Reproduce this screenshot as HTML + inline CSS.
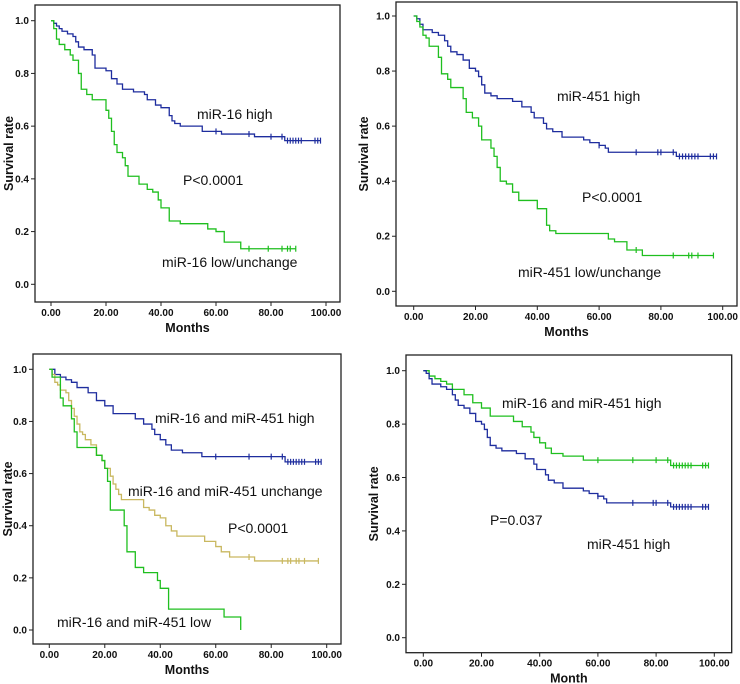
<!DOCTYPE html>
<html><head><meta charset="utf-8">
<style>
html,body{margin:0;padding:0;background:#fff;}
svg{display:block;font-family:"Liberation Sans",Arial,sans-serif;}
.tick{font-size:10px;font-weight:bold;fill:#111;}
.ttl{font-size:12.5px;font-weight:bold;fill:#111;}
.lbl{font-size:14px;fill:#111;}
</style></head>
<body>
<svg id="fig" width="740" height="684" viewBox="0 0 740 684"></svg>
<script>
// ---- data: [month, survival] step points ----
const p1High = [[0,1],[1,.99],[2,.98],[3,.97],[4,.96],[6,.95],[8,.94],[9,.92],[10,.90],[12,.89],[15,.87],[16,.82],[20,.81],[22,.78],[24,.76],[26,.74],[30,.73],[34,.72],[35,.70],[38,.68],[40,.67],[43,.64],[44,.62],[45,.61],[47,.60],[55,.58],[62,.57],[74,.56],[85,.545],[98,.545]];
const p1HighCens = [60,72,80,84,86,87,88,89,90,91,96,97,98];
const p1Low = [[0,1],[1,.97],[2,.93],[3,.91],[5,.89],[7,.87],[8,.85],[10,.80],[11,.74],[13,.72],[15,.70],[20,.66],[21,.63],[22,.58],[23,.53],[24,.50],[26,.48],[27,.45],[28,.41],[32,.38],[35,.36],[37,.35],[39,.32],[40,.29],[43,.24],[47,.23],[57,.21],[60,.20],[63,.16],[69,.135],[89,.135]];
const p1LowCens = [72,79,84,86,87,89];
const p451High = [[0,1],[1,.99],[2,.97],[3,.95],[6,.94],[8,.93],[10,.91],[11,.89],[12,.87],[14,.86],[16,.84],[18,.81],[20,.80],[21,.78],[22,.75],[23,.72],[25,.71],[27,.70],[32,.69],[35,.67],[38,.65],[39,.63],[42,.61],[43,.59],[45,.58],[48,.56],[55,.55],[57,.54],[60,.53],[62,.52],[63,.505],[85,.49],[98,.49]];
const p451HighCens = [60,72,79,80,84,86,87,88,89,90,91,92,96,97,98];
const p451Low = [[0,1],[1,.98],[2,.96],[3,.93],[4,.92],[5,.89],[8,.85],[9,.79],[11,.77],[12,.74],[16,.70],[17,.65],[19,.63],[21,.60],[22,.55],[25,.52],[26,.49],[27,.45],[28,.40],[30,.39],[32,.36],[34,.33],[40,.30],[43,.24],[44,.22],[46,.21],[63,.19],[65,.18],[69,.15],[74,.13],[97,.13]];
const p451LowCens = [72,84,89,90,92,97];
const bothHigh = [[0,1],[2,.98],[4,.97],[6,.96],[8,.95],[10,.93],[14,.91],[17,.88],[20,.86],[23,.83],[31,.81],[34,.79],[37,.77],[38,.75],[40,.73],[42,.71],[44,.69],[48,.68],[55,.665],[85,.645],[98,.645]];
const bothHighCens = [60,72,80,84,86,87,88,89,90,91,92,96,97,98];
const bothUnch = [[0,1],[1,.98],[2,.95],[3,.94],[4,.92],[6,.91],[7,.88],[8,.85],[9,.82],[10,.79],[11,.76],[12,.75],[13,.73],[15,.71],[17,.67],[19,.65],[20,.62],[22,.59],[23,.56],[24,.54],[25,.52],[26,.50],[34,.47],[36,.46],[38,.44],[40,.43],[42,.40],[44,.38],[46,.36],[56,.34],[60,.32],[62,.30],[65,.28],[74,.265],[97,.265]];
const bothUnchCens = [72,84,86,87,89,90,92,97];
const bothLow = [[0,1],[1,.97],[4,.89],[5,.86],[8,.81],[9,.76],[10,.70],[17,.67],[19,.65],[20,.62],[21,.57],[22,.46],[27,.40],[28,.30],[31,.24],[34,.22],[39,.19],[40,.16],[43,.08],[63,.05],[69,0]];
const bothLowCens = [];
const xTicks = [0,20,40,60,80,100];
const xTickLabels = ["0.00","20.00","40.00","60.00","80.00","100.00"];
const yTicks = [0,0.2,0.4,0.6,0.8,1.0];
const yTickLabels = ["0.0","0.2","0.4","0.6","0.8","1.0"];

const NS="http://www.w3.org/2000/svg";
const svg=document.getElementById('fig');
function mk(tag,attrs,parent){const e=document.createElementNS(NS,tag);for(const k in attrs)e.setAttribute(k,attrs[k]);(parent||svg).appendChild(e);return e;}
const BLUE="#1e2d9e",GREEN="#1fbf1f",KHAKI="#c9b860";

function panel(id,P,series,labels,xTitle){
  const g=mk('g',{});
  
  
  const sx=v=>P.x0+(P.x100-P.x0)*v/100;
  const sy=v=>P.y0+(P.y1-P.y0)*v;
  const fr=mk('rect',{x:P.l,y:P.t,width:P.r-P.l,height:P.b-P.t,fill:'none',stroke:'#222','stroke-width':1.3},g);
  
  
  xTicks.forEach((v,i)=>{
    mk('line',{x1:sx(v),x2:sx(v),y1:P.b,y2:P.b+4,stroke:'#222'},g);
    const t=mk('text',{x:sx(v),y:P.b+14,'text-anchor':'middle',class:'tick'},g);
    t.textContent=xTickLabels[i];
    
    
  });
  yTicks.forEach((v,i)=>{
    mk('line',{x1:P.l-4,x2:P.l,y1:sy(v),y2:sy(v),stroke:'#222'},g);
    const t=mk('text',{x:P.l-6,y:sy(v)+3.5,'text-anchor':'end',class:'tick'},g);
    t.textContent=yTickLabels[i];
    
    
  });
  const xt=mk('text',{x:(P.l+P.r)/2,y:P.b+30,'text-anchor':'middle',class:'ttl'},g);
  xt.textContent=xTitle;
  
  
  const yt=mk('text',{x:0,y:0,'text-anchor':'middle',class:'ttl',transform:`translate(${P.yl},${(P.t+P.b)/2}) rotate(-90)`},g);
  yt.textContent='Survival rate';
  
  
  series.forEach(s=>{
    let d='';
    s.pts.forEach((p,i)=>{
      if(i===0)d+=`M${sx(p[0])},${sy(p[1])}`;
      else d+=`H${sx(p[0])}V${sy(p[1])}`;
    });
    const path=mk('path',{d:d,fill:'none',stroke:s.color,'stroke-width':1.3},g);
    
    
    s.cens.forEach(c=>{
      let sv=s.pts[0][1];
      s.pts.forEach(p=>{if(p[0]<=c)sv=p[1];});
      const m=mk('path',{d:`M${sx(c)},${sy(sv)-3}V${sy(sv)+3}`,stroke:s.color,'stroke-width':1.2},g);
      
      
    });
  });
  labels.forEach(L=>{
    const t=mk('text',{x:L[1],y:L[2],class:'lbl'},g);
    t.textContent=L[0];
    
    
  });
}

panel('panel-mir16',{l:35,t:5,r:340,b:302,x0:51,x100:326,y0:284.3,y1:20.7,yl:13},
  [{pts:p1High,cens:p1HighCens,color:BLUE,name:'mir16-high-curve'},{pts:p1Low,cens:p1LowCens,color:GREEN,name:'mir16-low-curve'}],
  [['miR-16 high',197,119],['P<0.0001',183,185],['miR-16 low/unchange',162,267]],'Months');
panel('panel-mir451',{l:396,t:2,r:737,b:306,x0:413.7,x100:722.7,y0:291.3,y1:16,yl:368},
  [{pts:p451High,cens:p451HighCens,color:BLUE,name:'mir451-high-curve'},{pts:p451Low,cens:p451LowCens,color:GREEN,name:'mir451-low-curve'}],
  [['miR-451 high',557,101],['P<0.0001',582,202],['miR-451 low/unchange',518,277]],'Months');
panel('panel-combined',{l:33,t:354,r:341,b:644,x0:49.3,x100:326.7,y0:630,y1:369.3,yl:12},
  [{pts:bothHigh,cens:bothHighCens,color:BLUE,name:'both-high-curve'},{pts:bothUnch,cens:bothUnchCens,color:KHAKI,name:'both-unchange-curve'},{pts:bothLow,cens:bothLowCens,color:GREEN,name:'both-low-curve'}],
  [['miR-16 and miR-451 high',155,423],['miR-16 and miR-451 unchange',128,496],['P<0.0001',228,533],['miR-16 and miR-451 low',57,627]],'Months');
panel('panel-high-compare',{l:406,t:355,r:731.7,b:652.7,x0:423.3,x100:714.3,y0:637.7,y1:370.7,yl:378},
  [{pts:bothHigh,cens:bothHighCens,color:GREEN,name:'both-high-curve'},{pts:p451High,cens:p451HighCens,color:BLUE,name:'mir451-high-curve'}],
  [['miR-16 and miR-451 high',502,408],['P=0.037',490,525],['miR-451 high',587,549]],'Month');
</script>
</body></html>
